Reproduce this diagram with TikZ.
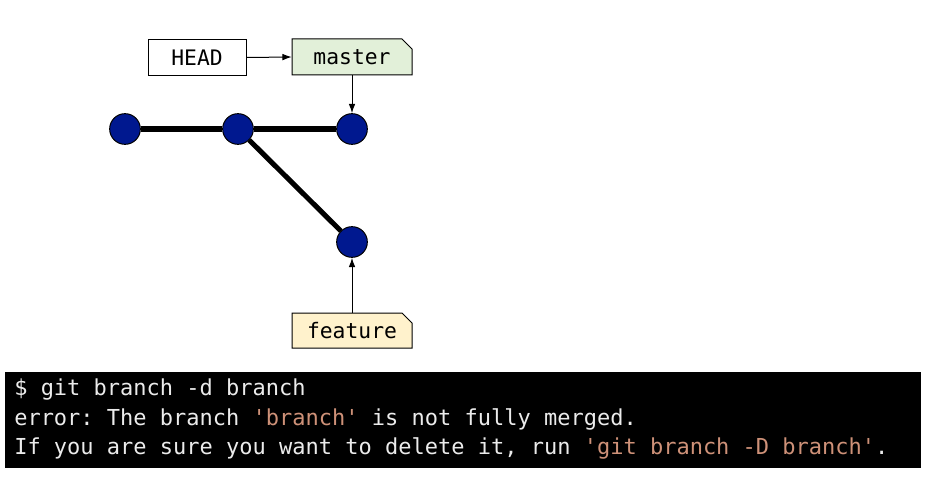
\documentclass[tikz,border=0pt]{standalone}
\usepackage{fontspec}
\setmonofont{DejaVu Sans Mono}
\usetikzlibrary{arrows.meta}
\definecolor{commitblue}{RGB}{0,24,143}
\definecolor{mastergreen}{RGB}{226,240,217}
\definecolor{featureyellow}{RGB}{255,242,204}
\definecolor{termtext}{RGB}{235,235,235}
\definecolor{termstr}{RGB}{206,145,120}
\begin{document}
\begin{tikzpicture}[x=0.75pt,y=-0.75pt,
  commit/.style={circle,draw=black,line width=0.75pt,fill=commitblue,minimum size=23pt,inner sep=0pt},
  edge/.style={line width=3.8pt},
  ptr/.style={line width=0.75pt,-{Latex[length=7pt,width=5pt]}},
  label/.style={font=\ttfamily\fontsize{16pt}{18pt}\selectfont,inner sep=0pt,minimum width=90pt,minimum height=27pt},
  termline/.style={font=\ttfamily\fontsize{16.5pt}{19pt}\selectfont,text=termtext,anchor=west,inner sep=0pt}]
\useasboundingbox (0,0) rectangle (931,481);
% branch boxes with cut corner
\draw[fill=mastergreen,line width=0.75pt] (292,39) -- (402,39) -- (412,49) -- (412,75) -- (292,75) -- cycle;
\draw[fill=featureyellow,line width=0.75pt] (292,313) -- (402,313) -- (412,323) -- (412,348) -- (292,348) -- cycle;
\node[label] (master) at (352,57) {master};
\node[label] (feature) at (352,331) {feature};
\node[label,draw,line width=0.75pt,minimum width=73.5pt,minimum height=27.5pt] (head) at (197,57.5) {HEAD};
% commits
\node[commit] (c1) at (125,129) {};
\node[commit] (c2) at (238,129) {};
\node[commit] (c3) at (352,129) {};
\node[commit] (c4) at (352,242) {};
\draw[edge] (c1) -- (c2);
\draw[edge] (c2) -- (c3);
\draw[edge] (c2) -- (c4);
% pointers
\draw[ptr] (head.east) -- (master.west);
\draw[ptr] (master.south) -- (c3.north);
\draw[ptr] (feature.north) -- (c4.south);
% terminal
\node[fill=black,minimum width=687pt,minimum height=71.5pt,inner sep=0pt,anchor=north west] (term) at (5,372) {};
\node[termline] (l1) at (14,390) {\$ git branch -d branch};
\node[termline] (l2) at (14,419) {error: The branch \textcolor{termstr}{'branch'} is not fully merged.};
\node[termline] (l3) at (14,448) {If you are sure you want to delete it, run \textcolor{termstr}{'git branch -D branch'}.};
\end{tikzpicture}
\end{document}
